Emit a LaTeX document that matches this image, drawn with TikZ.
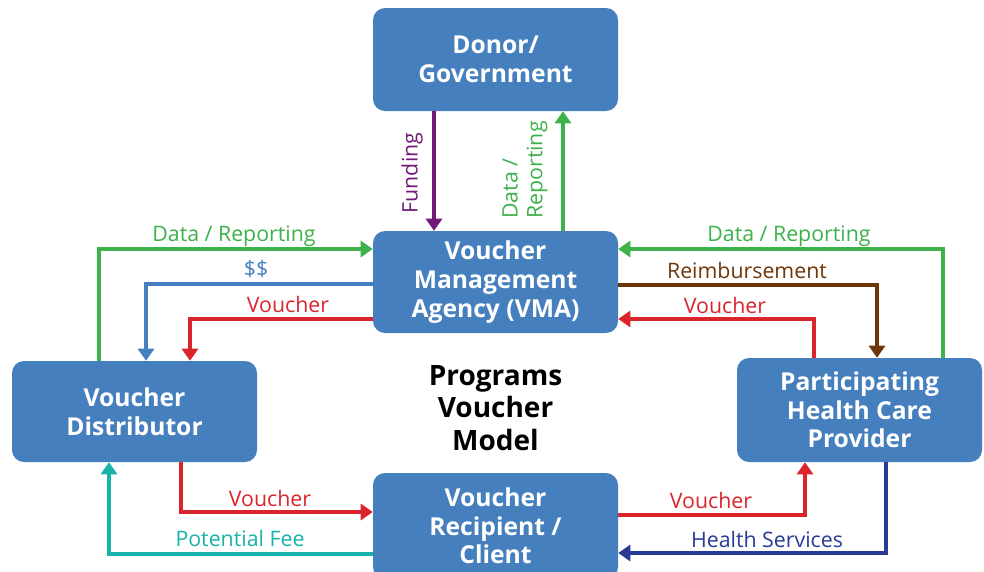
\documentclass[tikz,border=0pt]{standalone}
\usepackage{fontspec}
\setmainfont{Open Sans}
\usetikzlibrary{arrows.meta,calc}
\definecolor{boxblue}{RGB}{70,127,189}
\definecolor{cgreen}{RGB}{61,178,74}
\definecolor{cpurple}{RGB}{112,25,120}
\definecolor{cblue}{RGB}{69,128,193}
\definecolor{cred}{RGB}{218,37,44}
\definecolor{cbrown}{RGB}{110,55,10}
\definecolor{cteal}{RGB}{24,178,170}
\definecolor{cnavy}{RGB}{40,60,150}
\tikzset{
  box/.style={fill=boxblue, draw=none, rounded corners=9pt, minimum width=183.75pt, text=white, align=center, font=\fontsize{18.5}{21.5}\selectfont\bfseries, inner sep=0pt},
  conn/.style={line width=3pt, -{Triangle[width=12pt,length=9pt]}},
  lbl/.style={font=\fontsize{16}{18.5}\selectfont, inner sep=0pt},
}
\begin{document}
\begin{tikzpicture}[x=0.75pt,y=-0.75pt]
\useasboundingbox (0,0) rectangle (984,571);
\fill[white] (0,0) rectangle (984,571);

\node[box, minimum height=77.25pt] (donor) at (495.5,59.5) {Donor/\\Government};
\node[box, minimum height=76.5pt] (vma) at (495.5,282) {Voucher\\Management\\Agency (VMA)};
\node[box, minimum height=75.75pt] (dist) at (134.5,411.5) {Voucher\\Distributor};
\node[box, minimum height=78pt] (prov) at (859.5,410) {Participating\\Health Care\\Provider};
\node[box, minimum height=79.5pt] (recip) at (495.5,526) {Voucher\\Recipient /\\Client};

\node[font=\fontsize{21}{24.5}\selectfont\bfseries, align=center] (title) at (495.5,408) {Programs\\Voucher\\Model};

% coordinates
\coordinate (cf) at (434,0);
\coordinate (cd) at (563,0);
\coordinate (lg) at (99,249);
\coordinate (lb) at (146,284);
\coordinate (lr) at (190,319);
\coordinate (rg) at (943,249);
\coordinate (rb) at (877,285);
\coordinate (rr) at (814,319);
\coordinate (bl) at (181,512);
\coordinate (bt) at (109,554);
\coordinate (br) at (805,515);
\coordinate (bn) at (886,553);

% top
\draw[conn, cpurple] (donor.south -| cf) -- (vma.north -| cf);
\draw[conn, cgreen] (vma.north -| cd) -- (donor.south -| cd);
\node[lbl, text=cpurple, rotate=90] (lfund) at (412,173) {Funding};
\node[lbl, text=cgreen, rotate=90, align=left] (ldata) at (525,170) {Data /\\Reporting};

% left
\draw[conn, cgreen] (dist.north -| lg) |- (vma.west |- lg);
\draw[conn, cblue] (vma.west |- lb) -| (dist.north -| lb);
\draw[conn, cred] (vma.west |- lr) -| (dist.north -| lr);
\node[lbl, text=cgreen] (l1) at (234,236) {Data / Reporting};
\node[lbl, text=cblue] (l2) at (256,269) {\$\$};
\node[lbl, text=cred] (l3) at (288,304) {Voucher};

% right
\draw[conn, cgreen] (prov.north -| rg) |- (vma.east |- rg);
\draw[conn, cbrown] (vma.east |- rb) -| (prov.north -| rb);
\draw[conn, cred] (prov.north -| rr) |- (vma.east |- rr);
\node[lbl, text=cgreen] (r1) at (789,236) {Data / Reporting};
\node[lbl, text=cbrown] (r2) at (747,270) {Reimbursement};
\node[lbl, text=cred] (r3) at (725,305) {Voucher};

% bottom
\draw[conn, cred] (dist.south -| bl) |- (recip.west |- bl);
\draw[conn, cteal] (recip.west |- bt) -| (dist.south -| bt);
\draw[conn, cred] (recip.east |- br) -| (prov.south -| br);
\draw[conn, cnavy] (prov.south -| bn) |- (recip.east |- bn);
\node[lbl, text=cred] (b1) at (270,498) {Voucher};
\node[lbl, text=cteal] (b2) at (240,538) {Potential Fee};
\node[lbl, text=cred] (b3) at (711,500) {Voucher};
\node[lbl, text=cnavy] (b4) at (767,539) {Health Services};
\end{tikzpicture}
\end{document}
